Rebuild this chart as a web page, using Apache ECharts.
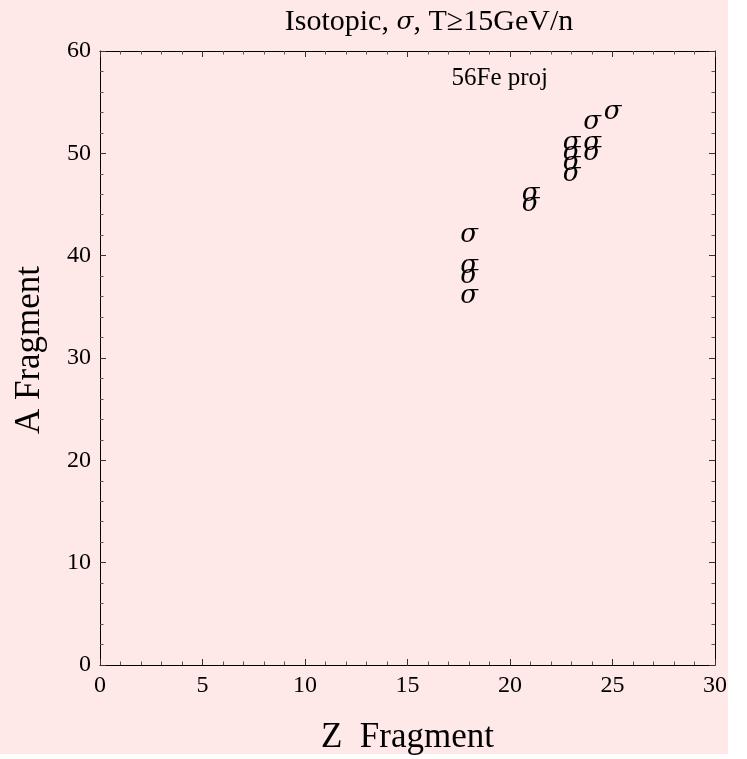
<!DOCTYPE html>
<html>
<head>
<meta charset="utf-8">
<script src="https://cdn.jsdelivr.net/npm/echarts@6/dist/echarts.min.js"></script>
<style>
html,body{margin:0;padding:0;background:#ffffff;}
#chart{width:747px;height:759px;}
</style>
</head>
<body>
<div id="chart"></div>
<script>
// Data
const zFragment = [18, 18, 18, 18, 21, 21, 23, 23, 23, 23, 24, 24, 24, 25];
const aFragment = [36, 38, 39, 42, 45, 46, 48, 49, 50, 51, 50, 51, 53, 54];
const xTicks = [0, 5, 10, 15, 20, 25, 30];
const yTicks = [0, 10, 20, 30, 40, 50, 60];
const noteText = '56Fe proj';
const notePos = [19.5, 57.3];
const titleParts = ['Isotopic, ', '\u03C3', ', T\u226515GeV/n'];
const markerText = '\u03C3';

const FONT = '"Liberation Serif", "Times New Roman", "DejaVu Serif", serif';
const chart = echarts.init(document.getElementById('chart'));

const points = zFragment.map((z, i) => [z, aFragment[i]]);

function axisCommon(showLabels, min, max, interval) {
  return {
    type: 'value', min: min, max: max, interval: interval,
    axisLine: { show: true, onZero: false, lineStyle: { color: '#000', width: 1 } },
    axisTick: { show: true, inside: true, length: 6, lineStyle: { color: '#333', width: 1 } },
    minorTick: { show: true, splitNumber: 5, length: 3.5, lineStyle: { color: '#555', width: 1 } },
    splitLine: { show: false },
    minorSplitLine: { show: false },
    axisLabel: { show: showLabels, color: '#000', fontFamily: FONT, fontSize: 24 }
  };
}

const option = {
  backgroundColor: '#ffffff',
  animation: false,
  graphic: [
    { type: 'rect', z: -10, silent: true, shape: { x: 0, y: 0, width: 728, height: 754 }, style: { fill: '#ffe8e8' } },
    { type: 'text', z: 10, x: 429, y: 22, style: {
        text: '{n|' + titleParts[0] + '}{i|' + titleParts[1] + '}{n|' + titleParts[2] + '}',
        rich: {
          n: { fontFamily: FONT, fontSize: 30, fill: '#000', color: '#000' },
          i: { fontFamily: '"DejaVu Serif", serif', fontStyle: 'italic', fontSize: 25, fill: '#000', color: '#000' }
        },
        fill: '#000', textAlign: 'center', textVerticalAlign: 'middle' } }
  ],
  grid: { left: 100, right: 32, top: 51, bottom: 94, containLabel: false, outerBoundsMode: 'none' },
  xAxis: [
    Object.assign(axisCommon(true, 0, 30, 5), {
      position: 'bottom',
      name: 'Z  Fragment', nameLocation: 'middle', nameGap: 55,
      nameTextStyle: { fontFamily: FONT, fontSize: 35, color: '#000' },
      axisLabel: { show: true, color: '#000', fontFamily: FONT, fontSize: 24, margin: 9,
        formatter: v => xTicks.indexOf(v) >= 0 ? String(v) : '' }
    }),
    Object.assign(axisCommon(false, 0, 30, 5), { position: 'top' })
  ],
  yAxis: [
    Object.assign(axisCommon(true, 0, 60, 10), {
      position: 'left',
      name: 'A Fragment', nameLocation: 'middle', nameGap: 53,
      nameTextStyle: { fontFamily: FONT, fontSize: 35, color: '#000', padding: [0, 0, 0, 16] },
      axisLabel: { show: true, color: '#000', fontFamily: FONT, fontSize: 24, margin: 9,
        formatter: v => yTicks.indexOf(v) >= 0 ? String(v) : '' }
    }),
    Object.assign(axisCommon(false, 0, 60, 10), { position: 'right' })
  ],
  series: [
    {
      type: 'scatter', xAxisIndex: 0, yAxisIndex: 0,
      data: points,
      symbol: 'circle', symbolSize: 0,
      itemStyle: { color: '#000', opacity: 1 },
      label: { show: true, position: 'inside', formatter: '{s|' + markerText + '}', color: '#000',
        rich: { s: { fontFamily: '"DejaVu Serif", serif', fontStyle: 'italic', fontSize: 26, color: '#000' } } },
      z: 5
    },
    {
      type: 'scatter', xAxisIndex: 0, yAxisIndex: 0,
      data: [notePos],
      symbol: 'circle', symbolSize: 0,
      itemStyle: { color: '#000', opacity: 1 },
      label: { show: true, position: 'inside', formatter: noteText, color: '#000',
        fontFamily: FONT, fontSize: 25 },
      z: 5
    }
  ]
};
chart.setOption(option);
</script>
</body>
</html>
